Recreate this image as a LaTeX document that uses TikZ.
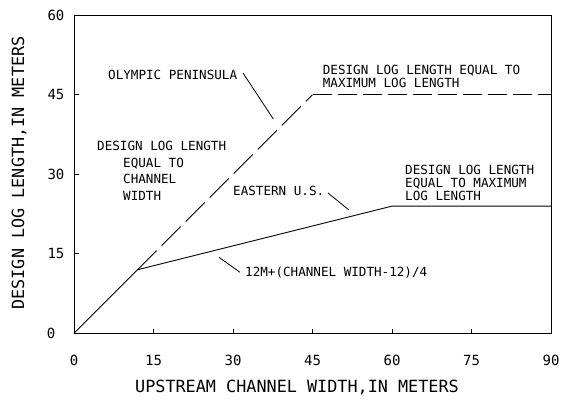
\documentclass[tikz,border=0pt]{standalone}
\usepackage{fontspec}
\newfontfamily\cadfont{DejaVu Sans Mono}
\begin{document}
\begin{tikzpicture}[x=1pt,y=1pt,
  every node/.style={inner sep=0pt, text=black},
  note/.style={anchor=base west, font=\cadfont\fontsize{12.6}{14}\selectfont},
  ticklbl/.style={anchor=center, font=\cadfont\fontsize{14}{16}\selectfont},
  axtitle/.style={anchor=base, font=\cadfont\fontsize{16.8}{19}\selectfont},
  curve/.style={line width=0.9pt, line join=miter},
  longdash/.style={curve, dash pattern=on 27pt off 7pt},
  flatdash/.style={curve, dash pattern=on 19pt off 6pt},
  leader/.style={line width=0.8pt},
  tickmark/.style={line width=0.8pt}]
\useasboundingbox (0,0) rectangle (565,399);

% plot area in data units (channel width, log length)
\begin{scope}[shift={(74pt,65.7pt)}, x=5.3pt, y=5.3pt]
  \coordinate (o) at (0,0);
  \coordinate (k) at (12,12);
  \coordinate (p45) at (45,45);
  \coordinate (r45) at (90,45);
  \coordinate (p60) at (60,24);
  \coordinate (r24) at (90,24);
  \draw[line width=0.9pt] (0,0) rectangle (90,60);
  % ticks, pointing into the plot
  \foreach \v in {15,30,45,60,75} \draw[tickmark] (\v,0) -- ++(0,4pt);
  \foreach \v in {15,30,45} \draw[tickmark] (0,\v) -- ++(5pt,0);
  % tick labels
  \foreach \v in {0,15,30,45,60,75,90}
    \node[ticklbl] (xl\v) at ([yshift=-27pt]\v,0) {\v};
  \foreach \v in {15,30,45,60}
    \node[ticklbl] (yl\v) at ([xshift=-18pt]0,\v) {\v};
  \node[ticklbl] (yl0) at ([xshift=-23pt]0,0) {0};
  % design curves
  \draw[curve] (o) -- (k) -- (p60) -- (r24);
  \draw[longdash] (k) -- (p45);
  \draw[flatdash] (p45) -- (r45);
\end{scope}

% axis titles
\node[axtitle] (xt) at (297,6.9) {UPSTREAM CHANNEL WIDTH,IN METERS};
\node[axtitle, rotate=90] (yt) at (24.1,226) {DESIGN LOG LENGTH,IN METERS};

% annotations
\node[note] (oly) at (108,319.4) {OLYMPIC PENINSULA};
\node[note] (ch1) at (97,248.4) {DESIGN LOG LENGTH};
\node[note] (ch2) at (123,231.7) {EQUAL TO};
\node[note] (ch3) at (123,215) {CHANNEL};
\node[note] (ch4) at (123,198.4) {WIDTH};
\node[note] (mx1) at (322.7,324.7) {DESIGN LOG LENGTH EQUAL TO};
\node[note] (mx2) at (322.7,311.4) {MAXIMUM LOG LENGTH};
\node[note] (eas) at (233,203.7) {EASTERN U.S.};
\node[note] (mr1) at (405,224.4) {DESIGN LOG LENGTH};
\node[note] (mr2) at (405,211.1) {EQUAL TO MAXIMUM};
\node[note] (mr3) at (405,198.4) {LOG LENGTH};
\node[note] (frm) at (245,122.4) {12M+(CHANNEL WIDTH-12)/4};

% leader lines
\coordinate (olyA) at (243,326);
\coordinate (olyB) at (273.3,280);
\coordinate (easA) at (328,206);
\coordinate (easB) at (349,189);
\coordinate (frmA) at (240,126.7);
\coordinate (frmB) at (219,141.7);
\draw[leader] (olyA) -- (olyB);
\draw[leader] (easA) -- (easB);
\draw[leader] (frmA) -- (frmB);
\end{tikzpicture}
\end{document}
